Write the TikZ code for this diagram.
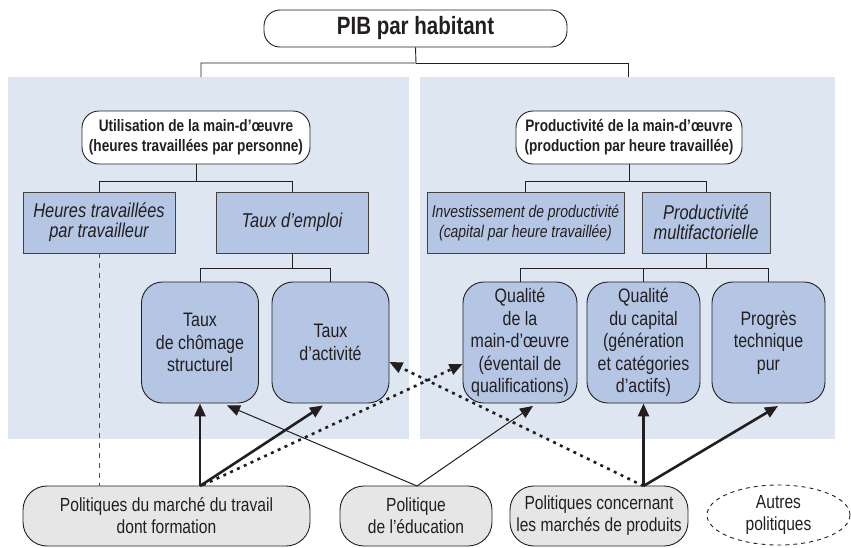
\documentclass[tikz,border=0pt]{standalone}
\usepackage{fontspec}
\setmainfont{Liberation Sans}[FakeStretch=0.82]
\usetikzlibrary{arrows.meta,shapes.geometric,calc}
\definecolor{panelbg}{RGB}{222,230,242}
\definecolor{boxblue}{RGB}{180,198,228}
\definecolor{boxgray}{RGB}{230,230,230}
\definecolor{ink}{RGB}{35,31,32}
\begin{document}
\begin{tikzpicture}[x=1pt,y=-1pt,
  every node/.style={text=ink,inner sep=0pt,align=center},
  panel/.style={fill=panelbg,draw=none},
  topbox/.style={draw=ink,line width=0.9pt,fill=white,rounded corners=16pt,font=\bfseries\fontsize{25}{27}\selectfont},
  midbox/.style={draw=ink,line width=0.9pt,fill=white,rounded corners=17pt,minimum height=53pt,font=\bfseries\fontsize{16.6}{20}\selectfont},
  factbox/.style={draw=ink!85,line width=0.9pt,fill=boxblue,minimum height=61pt,font=\itshape\fontsize{20}{20}\selectfont},
  subbox/.style={draw=ink,line width=0.9pt,fill=boxblue,rounded corners=21pt,minimum height=121pt,font=\fontsize{19.5}{22.5}\selectfont},
  polbox/.style={draw=ink,line width=0.9pt,fill=boxgray,rounded corners=24pt,minimum height=60pt,font=\fontsize{19}{22}\selectfont},
  tree/.style={draw=ink,line width=0.9pt},
  strong/.style={draw=ink,line width=2.6pt,-{Triangle[length=13pt,width=11pt]}},
  weak/.style={draw=ink,line width=1pt,-{Triangle[length=13pt,width=11pt]}},
  dotarrow/.style={draw=ink,line width=2.6pt,dash pattern=on 3pt off 4.5pt,-{Triangle[length=13pt,width=11pt]}},
  dashline/.style={draw=ink!80,line width=0.9pt,dash pattern=on 5pt off 5pt}
]
\useasboundingbox (0,0) rectangle (851,547);
% panels
\node[panel,minimum width=401pt,minimum height=362pt] (lpanel) at (208.5,258) {};
\node[panel,minimum width=415pt,minimum height=362pt] (rpanel) at (627.5,258) {};
% top
\node[topbox,minimum width=303pt,minimum height=37pt] (pib) at (415.5,28.5) {PIB par habitant};
\coordinate (jtop) at (416,63);
\coordinate (lp) at (201,77);
\coordinate (rp) at (628,77);
\draw[tree] (pib.south) -- (jtop) -| (lp);
\draw[tree] (jtop) -| (rp);
% left half
\node[midbox,minimum width=228pt] (util) at (196,137.5) {Utilisation de la main-d’œuvre\\(heures travaillées par personne)};
\node[factbox,minimum width=152pt] (heures) at (99,222.5) {Heures travaillées\\par travailleur};
\node[factbox,minimum width=152pt] (emploi) at (292,222.5) {Taux d’emploi};
\coordinate (ju) at (196,181);
\draw[tree] (util.south) -- (ju) -| (heures.north);
\draw[tree] (ju) -| (emploi.north);
\node[subbox,minimum width=117pt] (chom) at (200,342.5) {Taux\\de chômage\\structurel};
\node[subbox,minimum width=117pt] (act) at (330.5,342.5) {Taux\\d’activité};
\coordinate (je) at (292,268);
\draw[tree] (emploi.south) -- (je) -| (chom.north);
\draw[tree] (je) -| (act.north);
% right half
\node[midbox,minimum width=226pt] (prod) at (629,137.5) {Productivité de la main-d’œuvre\\(production par heure travaillée)};
\node[factbox,minimum width=197pt,font=\itshape\fontsize{17}{20}\selectfont] (invest) at (525.5,222.5) {Investissement de productivité\\(capital par heure travaillée)};
\node[factbox,minimum width=128pt] (pmf) at (706,222.5) {Productivité\\multifactorielle};
\coordinate (jp) at (629,181);
\draw[tree] (prod.south) -- (jp) -| (invest.north);
\draw[tree] (jp) -| (pmf.north);
\node[subbox,minimum width=114pt] (qmo) at (520,342.5) {Qualité\\de la\\main-d’œuvre\\(éventail de\\qualifications)};
\node[subbox,minimum width=113pt] (qcap) at (643.5,342.5) {Qualité\\du capital\\(génération\\et catégories\\d’actifs)};
\node[subbox,minimum width=113pt] (prog) at (768.5,342.5) {Progrès\\technique\\pur};
\coordinate (jm) at (706,268);
\coordinate (jq) at (643.5,268);
\draw[tree] (pmf.south) -- (jm) -| (qmo.north);
\draw[tree] (jm) -| (prog.north);
\draw[tree] (jq) -- (qcap.north);
% policies
\node[polbox,minimum width=287pt] (trav) at (166.5,516) {Politiques du marché du travail\\dont formation};
\node[polbox,minimum width=152pt] (educ) at (416,516) {Politique\\de l’éducation};
\node[polbox,minimum width=178pt] (marc) at (599,516) {Politiques concernant\\les marchés de produits};
\node[ellipse,draw=ink,line width=0.9pt,dash pattern=on 4pt off 4pt,minimum width=143pt,minimum height=60pt,font=\fontsize{19}{22}\selectfont] (autres) at (778.5,515) {Autres\\politiques};
% connectors
\draw[dashline] (heures.south) -- (heures.south |- trav.north);
\coordinate (tsrc) at (200,486);
\coordinate (esrc) at (417,486);
\coordinate (msrc) at (643.5,486);
\draw[dotarrow] (203,485) -- ($(qmo.west)+(0,21.5)$);
\draw[dotarrow] (msrc) -- ($(act.east)+(0,19.5)$);
\draw[strong] (tsrc) -- (chom.south);
\draw[strong] (tsrc) -- ($(act.south)+(-7.5,2)$);
\draw[weak] (esrc) -- ($(chom.south)+(27,2)$);
\draw[weak] (esrc) -- ($(qmo.south)+(13,2.5)$);
\draw[strong] (msrc) -- (qcap.south);
\draw[strong] (msrc) -- ($(prog.south)+(9.5,2.5)$);
\end{tikzpicture}
\end{document}
